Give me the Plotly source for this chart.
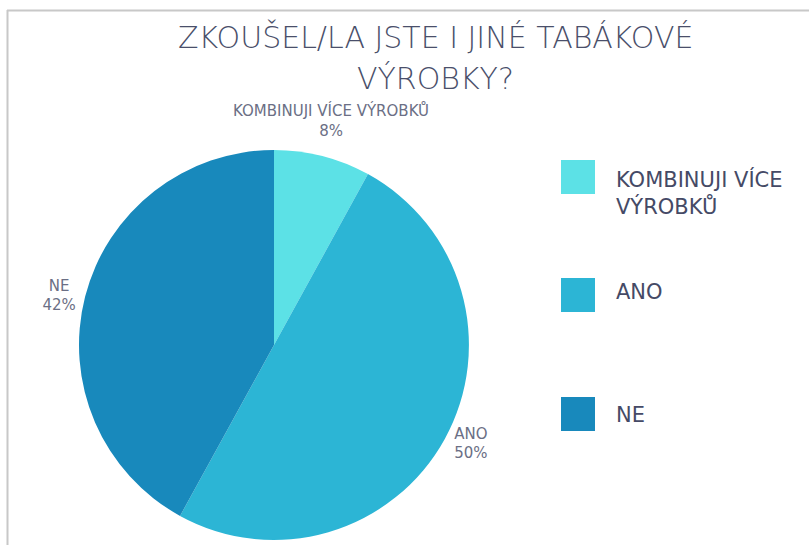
import plotly.graph_objects as go

categories = ["KOMBINUJI VÍCE VÝROBKŮ", "ANO", "NE"]
legend_labels = ["KOMBINUJI VÍCE<br>VÝROBKŮ", "ANO", "NE"]
values = [8, 50, 42]
colors = ["#5CE1E6", "#2CB5D5", "#1889BC"]
title_lines = ["ZKOUŠEL/LA JSTE I JINÉ TABÁKOVÉ", "VÝROBKY?"]

W, H = 809, 545
FONT = "DejaVu Sans"

def px(x):
    return x / W

def py(y):
    return 1 - y / H

total = sum(values)
fig = go.Figure()
fig.add_trace(go.Pie(
    labels=categories,
    values=values,
    sort=False,
    direction="clockwise",
    rotation=0,
    marker=dict(colors=colors, line=dict(width=0)),
    texttemplate="%{label}<br>%{percent:.0%}",
    textposition=["none", "outside", "outside"],
    textfont=dict(family=FONT, size=15, color="#6B6F85"),
    showlegend=False,
    hoverinfo="label+percent",
    domain=dict(x=[px(78), px(470)], y=[py(540), py(150)]),
))

shapes = [
    dict(type="line", xref="paper", yref="paper", x0=px(7), x1=1.01, y0=py(10.5), y1=py(10.5),
         line=dict(color="#C8C8C8", width=2)),
    dict(type="line", xref="paper", yref="paper", x0=px(7.5), x1=px(7.5), y0=py(10), y1=-0.01,
         line=dict(color="#C8C8C8", width=2)),
]
annotations = [
    dict(xref="paper", yref="paper", x=px(435), y=py(37), xanchor="center", yanchor="middle",
         showarrow=False, text=title_lines[0],
         font=dict(family=FONT, size=30, color="#4A4F6A", weight=300)),
    dict(xref="paper", yref="paper", x=px(435), y=py(78), xanchor="center", yanchor="middle",
         showarrow=False, text=title_lines[1],
         font=dict(family=FONT, size=30, color="#4A4F6A", weight=300)),
    dict(xref="paper", yref="paper", x=px(331), y=py(121), xanchor="center", yanchor="middle",
         showarrow=False, text=f"{categories[0]}<br>{values[0] / total:.0%}",
         font=dict(family=FONT, size=15, color="#6B6F85")),
]
sw_top = [160, 278, 397]
txt_y = [193, 292, 415]
for i, (lab, col) in enumerate(zip(legend_labels, colors)):
    shapes.append(dict(type="rect", xref="paper", yref="paper",
                       x0=px(561), x1=px(595), y0=py(sw_top[i] + 34), y1=py(sw_top[i]),
                       fillcolor=col, line=dict(width=0)))
    annotations.append(dict(xref="paper", yref="paper", x=px(614), y=py(txt_y[i]),
                            xanchor="left", yanchor="middle", align="left", showarrow=False,
                            text=lab, font=dict(family=FONT, size=21, color="#454A66")))

fig.update_layout(
    width=W, height=H,
    margin=dict(l=0, r=0, t=0, b=0),
    paper_bgcolor="white",
    plot_bgcolor="white",
    shapes=shapes,
    annotations=annotations,
)

fig.write_html("out.html", post_script="document.body.style.margin='0';",
               config={"displayModeBar": False})
